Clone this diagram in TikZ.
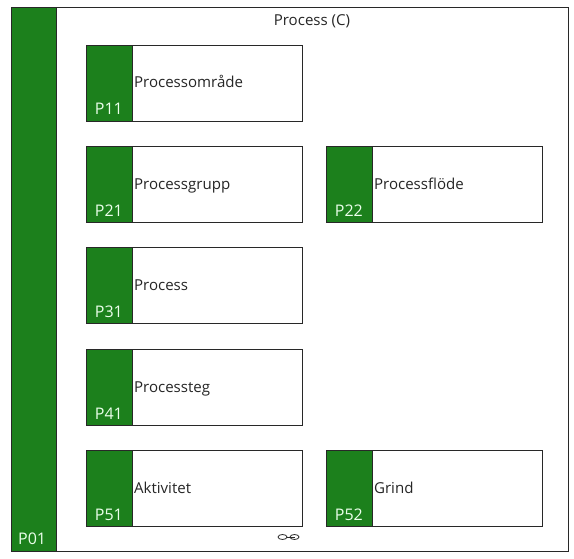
\documentclass[tikz,border=0pt]{standalone}
\usepackage{xcolor}
\usepackage{fontspec}
\setmainfont{Open Sans}
\usetikzlibrary{shapes.geometric, positioning}
\definecolor{tabgreen}{RGB}{28, 128, 28}
\definecolor{edgegrey}{RGB}{40, 40, 40}

\begin{document}
\begin{tikzpicture}[
    x=0.75pt, y=0.75pt,
    node distance=19pt,
    every node/.style={outer sep=0pt},
    frame/.style={rectangle, draw=edgegrey, line width=0.7pt, inner sep=0pt, minimum width=417.75pt, minimum height=408pt},
    sidebar/.style={rectangle, draw=edgegrey, line width=0.7pt, fill=tabgreen, inner sep=0pt, minimum width=33.75pt, minimum height=408pt},
    tab/.style={rectangle, draw=edgegrey, line width=0.7pt, fill=tabgreen, inner sep=0pt, minimum width=34.5pt, minimum height=57pt},
    block/.style={rectangle, draw=edgegrey, line width=0.7pt, fill=white, inner sep=1.2pt, minimum width=127.5pt, minimum height=57pt, text width=125.1pt, text height=10pt, text depth=2.5pt, align=left, font=\fontsize{11.3}{13}\selectfont, text=black!85},
    code/.style={inner sep=0pt, font=\fontsize{12}{13}\selectfont, text=green!8!white},
    title/.style={inner sep=0pt, font=\fontsize{11.3}{13}\selectfont, text=black!85},
    link/.style={ellipse, draw=edgegrey, line width=0.6pt, inner sep=0pt, minimum width=6.75pt, minimum height=3.75pt}
]
\useasboundingbox (0,0) rectangle (574,-559);

\node[frame, anchor=north west] (frame) at (11,-7) {};
\node[sidebar, anchor=north west] (p01) at (frame.north west) {};
\node[code, anchor=south] (p01code) at ([xshift=-1pt, yshift=4.5pt]p01.south) {P01};
\node[title] (title) at (312,-21) {Process (C)};

\node[tab, anchor=north west] (p11) at (86.5,-45) {};
\node[block, right=0pt of p11] (area) {Processområde};
\node[tab, below=of p11] (p21) {};
\node[block, right=0pt of p21] (group) {Processgrupp};
\node[tab, below=of p21] (p31) {};
\node[block, right=0pt of p31] (process) {Process};
\node[tab, below=of p31] (p41) {};
\node[block, right=0pt of p41] (step) {Processteg};
\node[tab, below=of p41] (p51) {};
\node[block, right=0pt of p51] (activity) {Aktivitet};

\node[tab, right=18pt of group] (p22) {};
\node[block, right=0pt of p22] (flow) {Processflöde};
\node[tab, right=18pt of activity] (p52) {};
\node[block, right=0pt of p52] (gate) {Grind};

\node[code, anchor=south] (p11code) at ([xshift=-0.5pt, yshift=4.5pt]p11.south) {P11};
\node[code, anchor=south] (p21code) at ([xshift=-0.5pt, yshift=4.5pt]p21.south) {P21};
\node[code, anchor=south] (p22code) at ([xshift=-0.5pt, yshift=4.5pt]p22.south) {P22};
\node[code, anchor=south] (p31code) at ([xshift=-0.5pt, yshift=4.5pt]p31.south) {P31};
\node[code, anchor=south] (p41code) at ([xshift=-0.5pt, yshift=4.5pt]p41.south) {P41};
\node[code, anchor=south] (p51code) at ([xshift=-0.5pt, yshift=4.5pt]p51.south) {P51};
\node[code, anchor=south] (p52code) at ([xshift=-0.5pt, yshift=4.5pt]p52.south) {P52};

\node[link] (linkl) at (282.5,-537) {};
\node[link] (linkr) at (294.5,-537) {};
\draw[edgegrey, line width=0.6pt] (linkl.east) -- (linkr.center);
\end{tikzpicture}
\end{document}
